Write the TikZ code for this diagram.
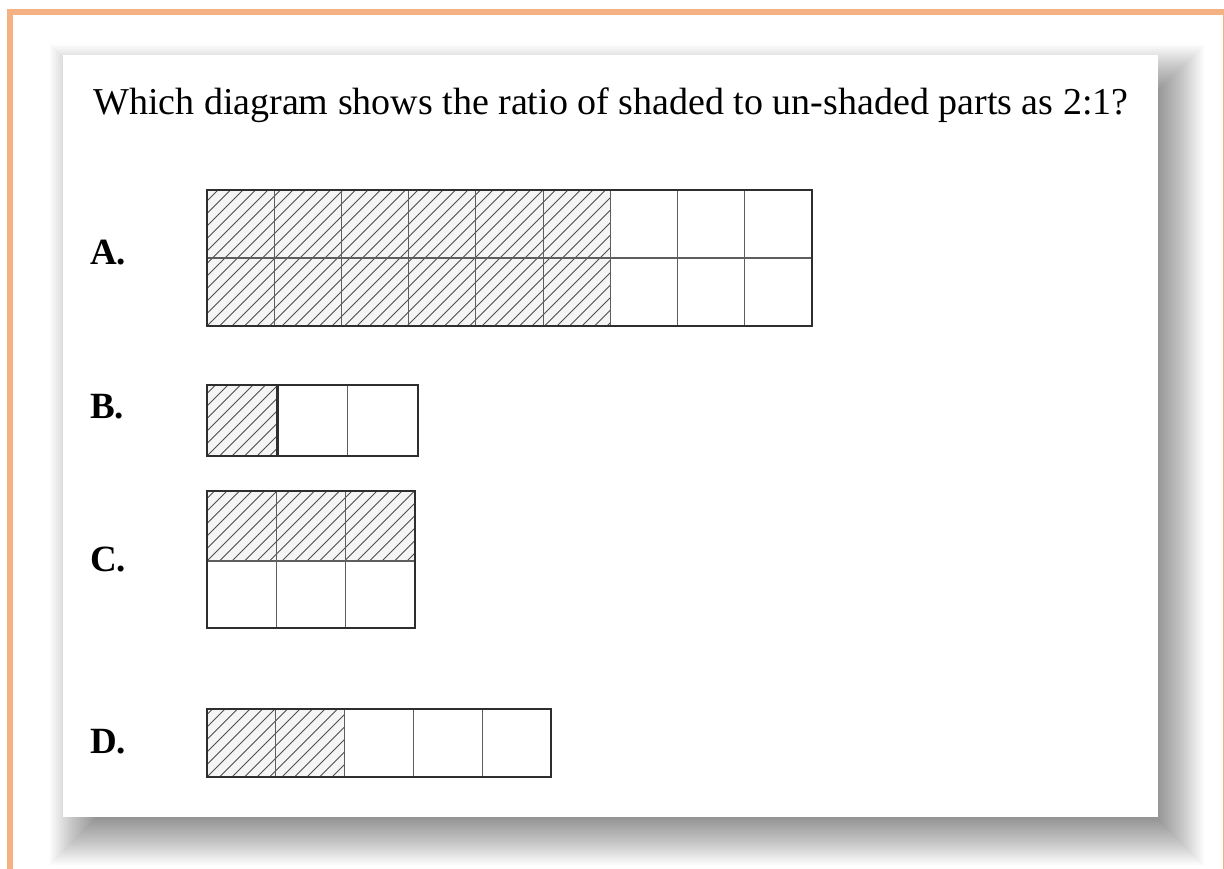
\documentclass[tikz,border=0pt]{standalone}
\usepackage{fontspec}
\setmainfont{Liberation Serif}
\definecolor{frameorange}{HTML}{F4B183}
\definecolor{gridborder}{HTML}{2E2E2E}
\definecolor{gridinner}{HTML}{5E5E5E}
\definecolor{hatchcol}{HTML}{4E4E4E}
\tikzset{
  outerbox/.style={draw=gridborder, line width=2.6pt},
  innerline/.style={draw=gridinner, line width=1.2pt},
  thickline/.style={draw=gridborder, line width=2.6pt},
  hatchline/.style={draw=hatchcol, line width=1pt},
  shadebg/.style={fill=black!4},
  titletext/.style={anchor=base west, inner sep=0pt, font=\fontsize{38}{40}\selectfont},
  labeltext/.style={anchor=base west, inner sep=0pt, font=\fontsize{37}{40}\selectfont\bfseries},
}
% hatch a rectangle: x1,y1 (top-left), x2,y2 (bottom-right)
\newcommand{\hatchrect}[4]{%
  \fill[shadebg] (#1,#2) rectangle (#3,#4);
  \begin{scope}
    \clip (#1,#2) rectangle (#3,#4);
    \foreach \k in {-14,...,60} {
      \draw[hatchline] ({#1+\k*12.5},#4) -- ++(160,-160);
    }
  \end{scope}
}
\begin{document}
\begin{tikzpicture}[x=1pt,y=-1pt]
\useasboundingbox (0,0) rectangle (1224,869);
\clip (0,0) rectangle (1224,869);
\fill[white] (0,0) rectangle (1224,869);
% shadow
\foreach \i in {0,...,27} {
  \fill[black, fill opacity=0.021] ({50+2*\i},{45+2*\i}) rectangle ({1204-2*\i},{865-2*\i});
}
% card
\fill[white] (63,55) rectangle (1158,817);
% orange frame
\draw[frameorange, line width=6pt] (10,12) rectangle (1225.5,900);

% title
\node[titletext] (title) at (93,115) {Which diagram shows the ratio of shaded to un-shaded parts as 2:1?};

% labels
\node[labeltext] (la) at (90,265) {A.};
\node[labeltext] (lb) at (90,418) {B.};
\node[labeltext] (lc) at (90,571) {C.};
\node[labeltext] (ld) at (90,753) {D.};

% ---- A: 9 x 2, 6 columns shaded
\hatchrect{207}{190}{610.3}{326}
\foreach \c in {1,...,8} {\draw[innerline] ({207+\c*67.22},190) -- ({207+\c*67.22},326);}
\draw[innerline] (207,258) -- (812,258);
\draw[outerbox] (207,190) rectangle (812,326);

% ---- B: 3 x 1, 1 shaded
\hatchrect{207}{385}{277.3}{456}
\draw[innerline] (347.7,385) -- (347.7,456);
\draw[thickline] (277.3,385) -- (277.3,456);
\draw[outerbox] (207,385) rectangle (418,456);

% ---- C: 3 x 2, top row shaded
\hatchrect{207}{491}{415}{561}
\foreach \c in {1,2} {\draw[innerline] ({207+\c*69.33},491) -- ({207+\c*69.33},628);}
\draw[innerline] (207,561) -- (415,561);
\draw[outerbox] (207,491) rectangle (415,628);

% ---- D: 5 x 1, 2 shaded
\hatchrect{207}{709}{344.6}{777}
\foreach \c in {1,...,4} {\draw[innerline] ({207+\c*68.8},709) -- ({207+\c*68.8},777);}
\draw[outerbox] (207,709) rectangle (551,777);
\end{tikzpicture}
\end{document}
